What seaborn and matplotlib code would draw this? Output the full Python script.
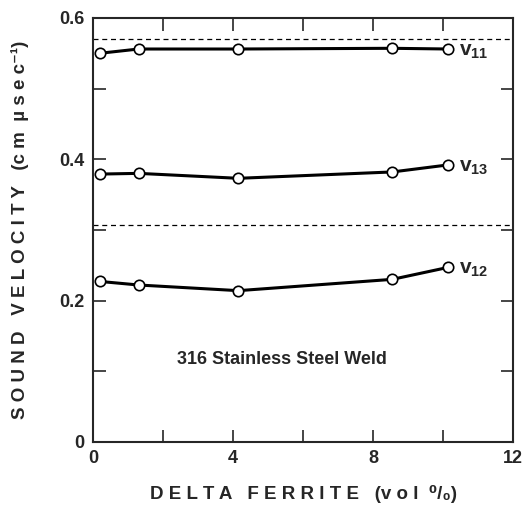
import pandas as pd
import matplotlib
matplotlib.use("Agg")
import matplotlib.pyplot as plt
import seaborn as sns

# Delta ferrite content (vol %) of the weld samples
ferrite = [0.2, 1.3, 4.15, 8.55, 10.15]

# Sound velocities (cm/usec)
v11 = [0.550, 0.556, 0.556, 0.557, 0.556]
v13 = [0.379, 0.380, 0.373, 0.382, 0.392]
v12 = [0.227, 0.222, 0.214, 0.230, 0.247]

# reference levels (dashed)
ref_levels = [0.570, 0.307]

series_names = ["11", "13", "12"]
series_vals = [v11, v13, v12]

rows = []
for name, vals in zip(series_names, series_vals):
    for x, y in zip(ferrite, vals):
        rows.append({"ferrite": x, "velocity": y, "mode": name})
df = pd.DataFrame(rows)

sns.set_style("ticks")
plt.rcParams["font.family"] = ["Liberation Sans", "DejaVu Sans"]
plt.rcParams["mathtext.fontset"] = "custom"
plt.rcParams["mathtext.rm"] = "Liberation Sans:bold"

fig = plt.figure(figsize=(5.23, 5.12), dpi=100)
ax = fig.add_axes([0.178, 0.137, 0.803, 0.828])

sns.lineplot(data=df, x="ferrite", y="velocity", units="mode", estimator=None,
             color="black", lw=2.2, marker="o", markersize=7.5,
             markerfacecolor="white", markeredgecolor="black", markeredgewidth=1.2,
             ax=ax, legend=False)

for lvl in ref_levels:
    ax.axhline(lvl, color="black", lw=0.9, ls=(0, (4, 3)))

for name, vals in zip(series_names, series_vals):
    ax.text(ferrite[-1] + 0.3, vals[-1] - 0.003, r"$\mathrm{v}_{\mathrm{%s}}$" % name,
            fontsize=15, va="center", ha="left")

ax.text(5.4, 0.117, "316 Stainless Steel Weld", fontsize=13, fontweight="bold",
        ha="center", va="center")

ax.set_xlim(0, 12)
ax.set_ylim(0, 0.6)
ax.set_xticks([0, 4, 8, 12])
ax.set_xticklabels(["0", "4", "8", "12"])
ax.set_xticks([2, 6, 10], minor=True)
ax.set_yticks([0, 0.2, 0.4, 0.6])
ax.set_yticklabels(["0", "0.2", "0.4", "0.6"])
ax.set_yticks([0.1, 0.3, 0.5], minor=True)
ax.tick_params(which="both", direction="in", top=True, right=True,
               length=9, width=1.2, labelsize=13, pad=6)
for lab in ax.get_xticklabels() + ax.get_yticklabels():
    lab.set_fontweight("bold")
for sp in ax.spines.values():
    sp.set_linewidth(1.5)
    sp.set_visible(True)

ax.set_xlabel("D E L T A   F E R R I T E   (v o l  \u2070/\u2080)", fontsize=13.5,
              fontweight="bold", labelpad=13)
ax.set_ylabel("S O U N D   V E L O C I T Y   (c m  \u00b5 s e c\u207b\u00b9)", fontsize=13.5,
              fontweight="bold", labelpad=22)

fig.savefig("out.png", dpi=100)
